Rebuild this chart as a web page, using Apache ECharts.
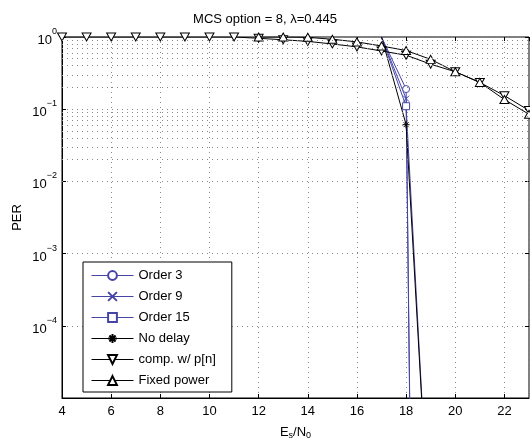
<!DOCTYPE html>
<html>
<head>
<meta charset="utf-8">
<script src="https://cdn.jsdelivr.net/npm/echarts@6/dist/echarts.min.js"></script>
<style>
  html, body { margin: 0; padding: 0; background: #fff; }
  #chart { width: 530px; height: 445px; }
</style>
</head>
<body>
<div id="chart"></div>
<script>
  // values (PER vs Es/N0)
  var compX = [4, 5, 6, 7, 8, 9, 10, 11, 12, 13, 14, 15, 16, 17, 18, 19, 20, 21, 22, 23]
  var compPer = [1, 1, 1, 1, 1, 1, 1, 1, 0.96, 0.915, 0.87, 0.8, 0.73, 0.64, 0.56, 0.42, 0.33, 0.235, 0.154, 0.096]
  var fixedX = [12, 13, 14, 15, 16, 17, 18, 19, 20, 21, 22, 23]
  var fixedPer = [1, 1, 0.99, 0.93, 0.855, 0.75, 0.65, 0.49, 0.33, 0.235, 0.136, 0.085]
  var dropX = [17, 18, 19]
  var order3Per = [1, 0.19, 1e-30]
  var order9Per = [1, 0.14, 1e-30]
  var order15Per = [1, 0.11, 5.5e-8]
  var noDelayPer = [1, 0.061, 6e-8]

  var yMinor = []
  for (var k = -5; k < 0; k++) {
    for (var m = 2; m <= 9; m++) yMinor.push(m * Math.pow(10, k))
  }

  var blue = '#4545a8'
  var font = 'Liberation Sans'
  var gridLine = {show: true, lineStyle: {color: '#8a8a8a', width: 1, type: [1, 4]}}

  function pairs (xs, ys) {
    return xs.map(function (x, i) { return [x, ys[i]] })
  }
  // first point of the steep curves is on the top edge, no marker there
  function dropPairs (ys) {
    return dropX.map(function (x, i) {
      var p = {value: [x, ys[i]]}
      if (i === 0) p.symbol = 'none'
      return p
    })
  }

  var symX = 'path://M0,0L10,10M10,0L0,10'
  var symStar = 'path://M5,0L5,10M0,5L10,5M1.5,1.5L8.5,8.5M8.5,1.5L1.5,8.5'
  var symDown = 'path://M0,0L10,0L5,8.66Z'
  var symUp = 'path://M5,0L10,8.66L0,8.66Z'

  function lineSeries (name, color, symbol, size, data) {
    return {
      name: name,
      type: 'line',
      data: data,
      symbol: symbol,
      symbolSize: size,
      showAllSymbol: true,
      lineStyle: {color: color, width: 1},
      itemStyle: {color: '#fff', borderColor: color, borderWidth: 1},
      emphasis: {disabled: true},
      animation: false,
      z: 3
    }
  }

  var chart = echarts.init(document.getElementById('chart'))
  chart.setOption({
    animation: false,
    textStyle: {fontFamily: font, color: '#000'},
    title: {
      text: 'MCS option = 8, λ=0.445',
      left: 'center',
      top: 8,
      textStyle: {fontFamily: font, fontSize: 13, fontWeight: 'normal', color: '#000'}
    },
    grid: {left: 62, right: 1, top: 37, bottom: 42, show: true, borderColor: '#000', borderWidth: 1},
    legend: {
      orient: 'vertical',
      left: 83,
      top: 262,
      padding: [7, 16, 5, 8],
      itemWidth: 42,
      itemHeight: 11,
      itemGap: 8,
      borderColor: '#000',
      borderWidth: 1,
      backgroundColor: '#fff',
      lineStyle: {width: 1},
      textStyle: {fontFamily: font, fontSize: 13, color: '#000'},
      data: ['Order 3', 'Order 9', 'Order 15', 'No delay', 'comp. w/ p[n]', 'Fixed power']
    },
    xAxis: [{
      type: 'value',
      min: 4,
      max: 23,
      interval: 2,
      name: '{a|E}{s|s}{a|/N}{s|0}',
      nameLocation: 'middle',
      nameGap: 27,
      nameTextStyle: {
        rich: {
          a: {fontFamily: font, fontSize: 13, color: '#000'},
          s: {fontFamily: font, fontSize: 9, color: '#000', padding: [6, 0, 0, 0]}
        }
      },
      axisLine: {onZero: false, lineStyle: {color: '#000'}},
      axisTick: {inside: true, length: 4, lineStyle: {color: '#000'}},
      axisLabel: {fontFamily: font, fontSize: 13, color: '#000', margin: 7, showMaxLabel: false},
      splitLine: gridLine
    }, {
      type: 'value',
      position: 'top',
      min: 4,
      max: 23,
      interval: 2,
      axisLine: {show: false},
      axisTick: {inside: true, length: 4, lineStyle: {color: '#000'}},
      axisLabel: {show: false},
      splitLine: {show: false}
    }],
    yAxis: [{
      type: 'log',
      logBase: 10,
      min: 1e-5,
      max: 1,
      name: 'PER',
      nameLocation: 'middle',
      nameGap: 38,
      nameMoveOverlap: false,
      nameRotate: 90,
      nameTextStyle: {fontFamily: font, fontSize: 13, color: '#000'},
      axisLine: {lineStyle: {color: '#000'}},
      axisTick: {inside: true, length: 4, lineStyle: {color: '#000'}},
      axisLabel: {
        margin: 5,
        showMinLabel: false,
        formatter: function (v) {
          var e = Math.round(Math.log10(v))
          return '{b|10}{e|' + (e < 0 ? '\u2212' + (-e) : e) + '}'
        },
        rich: {
          b: {fontFamily: font, fontSize: 13, color: '#000', lineHeight: 20, verticalAlign: 'bottom'},
          e: {fontFamily: font, fontSize: 9, color: '#000', verticalAlign: 'top', lineHeight: 20}
        }
      },
      splitLine: gridLine
    }, {
      type: 'log',
      logBase: 10,
      min: 1e-5,
      max: 1,
      position: 'right',
      axisLine: {show: false},
      axisTick: {inside: true, length: 4, lineStyle: {color: '#000'}},
      axisLabel: {show: false},
      splitLine: {show: false}
    }],
    series: [
      {
        name: 'minor grid',
        type: 'line',
        data: [],
        silent: true,
        markLine: {
          silent: true,
          symbol: 'none',
          label: {show: false},
          lineStyle: {color: '#8a8a8a', width: 1, type: [1, 4]},
          data: yMinor.map(function (v) { return {yAxis: v} })
        },
        z: 1
      },
      lineSeries('Order 3', blue, 'circle', 7, dropPairs(order3Per)),
      lineSeries('Order 9', blue, symX, 6, dropPairs(order9Per)),
      lineSeries('Order 15', blue, 'rect', 7, dropPairs(order15Per)),
      lineSeries('No delay', '#000', symStar, 7, dropPairs(noDelayPer)),
      lineSeries('comp. w/ p[n]', '#000', symDown, [9, 8], pairs(compX, compPer)),
      lineSeries('Fixed power', '#000', symUp, [9, 8], pairs(fixedX, fixedPer))
    ]
  })
</script>
</body>
</html>
